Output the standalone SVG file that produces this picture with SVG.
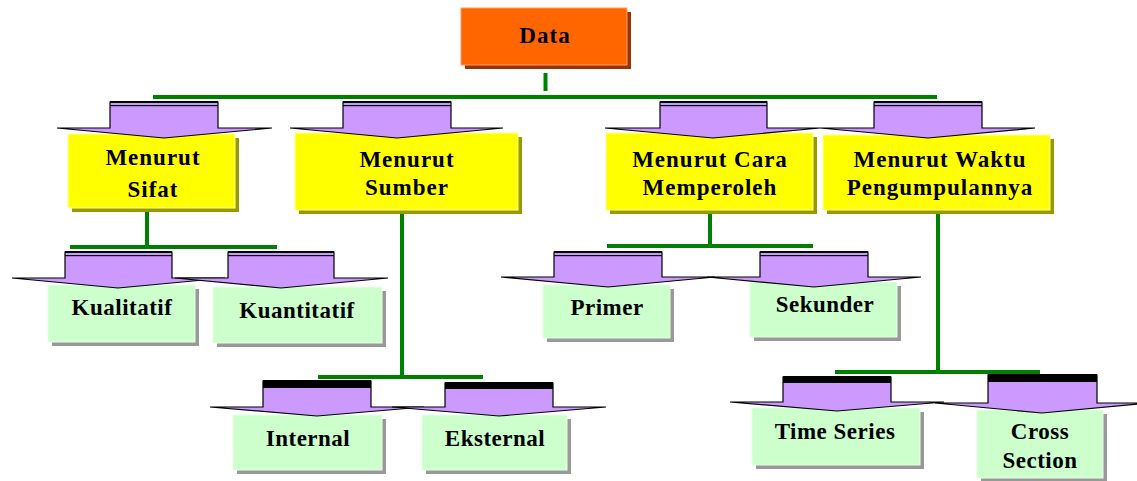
<svg xmlns="http://www.w3.org/2000/svg" width="1137" height="481" viewBox="0 0 1137 481">
<style>
.t{font-family:"Liberation Serif","Times New Roman",serif;font-weight:bold;font-size:23px;fill:#000;text-anchor:middle}
.l1{letter-spacing:1px}
.l2{letter-spacing:0.5px}
.ln{stroke:#008000;stroke-width:4;fill:none}
.arr{fill:#cc99ff;stroke:#000;stroke-width:1.2;stroke-linejoin:miter}
.band{fill:#000}
.org{fill:#ff6600;stroke:#ff9966;stroke-width:1}
.orgs{fill:#993300}
.yel{fill:#ffff00;stroke:#ffff99;stroke-width:1}
.yels{fill:#999900}
.grn{fill:#ccffcc;stroke:#e6ffe6;stroke-width:1}
.grns{fill:#999999}
</style>
<rect width="1137" height="481" fill="#ffffff"/>
<g id="connectors">
<line class="ln" x1="545.5" y1="73" x2="545.5" y2="91" stroke-width="5"/>
<line class="ln" x1="153" y1="97" x2="937" y2="97"/>
<line class="ln" x1="147" y1="208" x2="147" y2="247"/>
<line class="ln" x1="70" y1="247" x2="277" y2="247"/>
<line class="ln" x1="402" y1="210" x2="402" y2="377"/>
<line class="ln" x1="318" y1="377" x2="483" y2="377"/>
<line class="ln" x1="710" y1="210" x2="710" y2="246"/>
<line class="ln" x1="607" y1="246" x2="813" y2="246"/>
<line class="ln" x1="938" y1="210" x2="938" y2="372"/>
<line class="ln" x1="835" y1="372" x2="1040" y2="372"/>
</g>
<g id="data">
<rect class="orgs" x="465" y="12" width="166" height="57"/>
<rect class="org" x="461" y="8" width="166" height="57"/>
<text class="t l1" x="545" y="43">Data</text>
</g>
<g id="sifat">
<rect class="yels" x="72" y="138" width="167" height="74"/>
<rect class="yel" x="68" y="134" width="167" height="74"/>
<path class="arr" d="M110,102 H218 V128 H272 L164,138 L57,128 H110 Z"/>
<rect class="band" x="110" y="101" width="108" height="2"/><rect class="band" x="110" y="105" width="108" height="1.2"/>
<text class="t l1" x="153" y="165">Menurut</text>
<text class="t l1" x="153" y="197">Sifat</text>
</g>
<g id="sumber">
<rect class="yels" x="299" y="137" width="223" height="77"/>
<rect class="yel" x="295" y="133" width="223" height="77"/>
<path class="arr" d="M343,102 H451 V128 H503 L397,138 L290,128 H343 Z"/>
<rect class="band" x="343" y="101" width="108" height="2"/><rect class="band" x="343" y="105" width="108" height="1.2"/>
<text class="t l1" x="407" y="167">Menurut</text>
<text class="t l1" x="407" y="195">Sumber</text>
</g>
<g id="cara">
<rect class="yels" x="610" y="137" width="207" height="77"/>
<rect class="yel" x="606" y="133" width="207" height="77"/>
<path class="arr" d="M660,102 H767 V128 H820 L713,138 L605,128 H660 Z"/>
<rect class="band" x="660" y="101" width="107" height="2"/><rect class="band" x="660" y="105" width="107" height="1.2"/>
<text class="t l1" x="710" y="167">Menurut Cara</text>
<text class="t l1" x="710" y="195">Memperoleh</text>
</g>
<g id="waktu">
<rect class="yels" x="827" y="139" width="227" height="75"/>
<rect class="yel" x="823" y="135" width="227" height="75"/>
<path class="arr" d="M874,102 H982 V128 H1035 L928,138 L820,128 H874 Z"/>
<rect class="band" x="874" y="101" width="108" height="2"/><rect class="band" x="874" y="105" width="108" height="1.2"/>
<text class="t l1" x="940" y="167">Menurut Waktu</text>
<text class="t l1" x="940" y="195">Pengumpulannya</text>
</g>
<g id="kualitatif">
<rect class="grns" x="52" y="289" width="147" height="57"/>
<rect class="grn" x="48" y="285" width="147" height="57"/>
<path class="arr" d="M65,252 H172 V278 H225 L118,288 L12,278 H65 Z"/>
<rect class="band" x="65" y="251" width="107" height="2"/><rect class="band" x="65" y="255" width="107" height="1.2"/>
<text class="t l2" x="122" y="315">Kualitatif</text>
</g>
<g id="kuantitatif">
<rect class="grns" x="217" y="291" width="169" height="56"/>
<rect class="grn" x="213" y="287" width="169" height="56"/>
<path class="arr" d="M228,252 H334 V278 H388 L281,288 L175,278 H228 Z"/>
<rect class="band" x="228" y="251" width="106" height="2"/><rect class="band" x="228" y="255" width="106" height="1.2"/>
<text class="t l2" x="297" y="318">Kuantitatif</text>
</g>
<g id="primer">
<rect class="grns" x="547" y="289" width="127" height="53"/>
<rect class="grn" x="543" y="285" width="127" height="53"/>
<path class="arr" d="M554,252 H662 V277 H715 L608,287 L501,277 H554 Z"/>
<rect class="band" x="554" y="251" width="108" height="2"/><rect class="band" x="554" y="255" width="108" height="1.2"/>
<text class="t l2" x="607" y="315">Primer</text>
</g>
<g id="sekunder">
<rect class="grns" x="754" y="286" width="147" height="55"/>
<rect class="grn" x="750" y="282" width="147" height="55"/>
<path class="arr" d="M760,252 H868 V277 H921 L814,287 L707,277 H760 Z"/>
<rect class="band" x="760" y="251" width="108" height="2"/><rect class="band" x="760" y="255" width="108" height="1.2"/>
<text class="t l2" x="825" y="312">Sekunder</text>
</g>
<g id="internal">
<rect class="grns" x="237" y="419" width="149" height="55"/>
<rect class="grn" x="233" y="415" width="149" height="55"/>
<path class="arr" d="M263,381 H371 V407 H424 L317,416 L210,407 H263 Z"/>
<rect class="band" x="263" y="380" width="108" height="8"/>
<text class="t l2" x="308" y="446">Internal</text>
</g>
<g id="eksternal">
<rect class="grns" x="426" y="419" width="145" height="55"/>
<rect class="grn" x="422" y="415" width="145" height="55"/>
<path class="arr" d="M445,383 H553 V407 H606 L499,416 L392,407 H445 Z"/>
<rect class="band" x="445" y="382" width="108" height="7"/>
<text class="t l2" x="495" y="446">Eksternal</text>
</g>
<g id="timeseries">
<rect class="grns" x="756" y="412" width="168" height="57"/>
<rect class="grn" x="752" y="408" width="168" height="57"/>
<path class="arr" d="M783,377 H891 V402 H944 L837,411 L730,402 H783 Z"/>
<rect class="band" x="783" y="376" width="108" height="7"/>
<text class="t l2" x="835" y="439">Time Series</text>
</g>
<g id="crosssection">
<rect class="grns" x="981" y="414" width="126" height="68"/>
<rect class="grn" x="977" y="410" width="126" height="68"/>
<path class="arr" d="M988,375 H1097 V403 H1150 L1042,413 L935,403 H988 Z"/>
<rect class="band" x="988" y="374" width="109" height="8"/>
<text class="t l2" x="1040" y="439">Cross</text>
<text class="t l2" x="1040" y="468">Section</text>
</g>
</svg>
